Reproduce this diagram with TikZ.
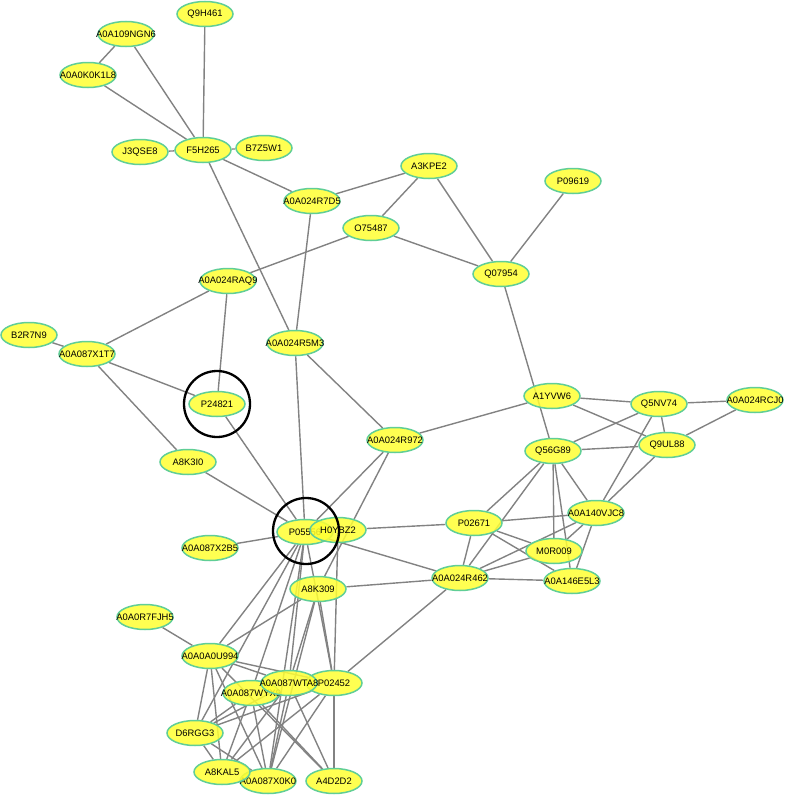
\documentclass[tikz,border=0pt]{standalone}
\usepackage{fontspec}
\setmainfont{Liberation Sans}
\usetikzlibrary{shapes.geometric,backgrounds}
\definecolor{protfill}{RGB}{255,255,51}
\definecolor{protline}{RGB}{96,206,150}
\definecolor{linkgray}{RGB}{130,130,130}

\begin{document}
\begin{tikzpicture}[x=1pt,y=-1pt,font=\fontsize{9.4}{11}\selectfont,
  prot/.style={ellipse,draw=protline,line width=1.5pt,fill=protfill,fill opacity=0.85,text opacity=1,
    minimum width=56pt,minimum height=25pt,inner sep=0pt,
    execute at begin node={\hbox to 0pt\bgroup\hss},execute at end node={\hss\egroup}},
  link/.style={draw=linkgray,line width=1.4pt},
  ring/.style={circle,draw=black,line width=2.3pt,minimum size=66pt,inner sep=0pt}]
\useasboundingbox (0,0) rectangle (785,795);

% upper part
\node[prot] (Q9H461) at (205,14) {Q9H461};
\node[prot] (A0A109NGN6) at (126,34) {A0A109NGN6};
\node[prot] (A0A0K0K1L8) at (88,75) {A0A0K0K1L8};
\node[prot] (J3QSE8) at (140,152) {J3QSE8};
\node[prot] (F5H265) at (203,150) {F5H265};
\node[prot] (B7Z5W1) at (264,148) {B7Z5W1};
\node[prot] (A3KPE2) at (429,166) {A3KPE2};
\node[prot] (P09619) at (573,181) {P09619};
\node[prot] (A0A024R7D5) at (312,201) {A0A024R7D5};
\node[prot] (O75487) at (371,228) {O75487};
\node[prot] (Q07954) at (501,274) {Q07954};
\node[prot] (A0A024RAQ9) at (228,281) {A0A024RAQ9};
\node[prot] (B2R7N9) at (29,335) {B2R7N9};
\node[prot] (A0A087X1T7) at (87,354) {A0A087X1T7};
\node[prot] (A0A024R5M3) at (295,343) {A0A024R5M3};
\node[prot] (P24821) at (217,404) {P24821};
\node[prot] (A8K3I0) at (188,462) {A8K3I0};
\node[prot] (A0A024R972) at (395,440) {A0A024R972};

% right cluster
\node[prot] (A1YVW6) at (552,396) {A1YVW6};
\node[prot] (Q5NV74) at (659,404) {Q5NV74};
\node[prot] (A0A024RCJ0) at (755,400) {A0A024RCJ0};
\node[prot] (Q9UL88) at (667,445) {Q9UL88};
\node[prot] (Q56G89) at (553,451) {Q56G89};
\node[prot] (P02671) at (474,523) {P02671};
\node[prot] (A0A140VJC8) at (596,513) {A0A140VJC8};
\node[prot] (M0R009) at (554,551) {M0R009};
\node[prot] (A0A024R462) at (460,578) {A0A024R462};
\node[prot] (A0A146E5L3) at (572,581) {A0A146E5L3};

% hub and lower cluster
\node[prot] (P05556) at (305,532) {P05556};
\node[prot] (H0YBZ2) at (338,530) {H0YBZ2};
\node[prot] (A0A087X2B5) at (210,548) {A0A087X2B5};
\node[prot] (A8K309) at (318,589) {A8K309};
\node[prot] (A0A0R7FJH5) at (145,617) {A0A0R7FJH5};
\node[prot] (A0A0A0U994) at (210,656) {A0A0A0U994};
\node[prot] (P02452) at (334,683) {P02452};
\node[prot] (A0A087WYX9) at (251,693) {A0A087WYX9};
\node[prot] (A0A087WTA8) at (289,683) {A0A087WTA8};
\node[prot] (D6RGG3) at (195,733) {D6RGG3};
\node[prot] (A0A087X0K0) at (268,781) {A0A087X0K0};
\node[prot] (A8KAL5) at (222,772) {A8KAL5};
\node[prot] (A4D2D2) at (334,781) {A4D2D2};

\begin{scope}[on background layer]
\foreach \a/\b in {Q9H461/F5H265,A0A109NGN6/A0A0K0K1L8,A0A109NGN6/F5H265,A0A0K0K1L8/F5H265,
  J3QSE8/F5H265,F5H265/B7Z5W1,F5H265/A0A024R7D5,F5H265/A0A024R5M3,
  A0A024R7D5/A3KPE2,A0A024R7D5/A0A024R5M3,A3KPE2/O75487,A3KPE2/Q07954,P09619/Q07954,
  O75487/Q07954,O75487/A0A024RAQ9,Q07954/Q56G89,A0A024RAQ9/A0A087X1T7,A0A024RAQ9/P24821,
  B2R7N9/A0A087X1T7,A0A087X1T7/P24821,A0A087X1T7/A8K3I0,A0A024R5M3/A0A024R972,
  A0A024R972/A1YVW6,A1YVW6/Q5NV74,A1YVW6/Q9UL88,Q5NV74/A0A024RCJ0,Q5NV74/Q9UL88,
  Q5NV74/Q56G89,Q5NV74/A0A140VJC8,Q9UL88/A0A024RCJ0,Q9UL88/Q56G89,Q9UL88/A0A140VJC8,
  Q56G89/P02671,Q56G89/A0A024R462,Q56G89/M0R009,Q56G89/A0A146E5L3,Q56G89/A0A140VJC8,
  P02671/A0A140VJC8,P02671/A0A024R462,P02671/M0R009,P02671/A0A146E5L3,
  A0A140VJC8/M0R009,A0A140VJC8/A0A024R462,A0A140VJC8/A0A146E5L3,
  A0A024R462/M0R009,A0A024R462/A0A146E5L3}
  \draw[link] (\a) -- (\b);
% around the hub
\foreach \a/\b in {P05556/A8K3I0,P05556/P24821,P05556/A0A024R5M3,P05556/A0A024R972,
  P05556/A0A087X2B5,P05556/A0A024R462,P05556/A0A0A0U994,P05556/A0A087WYX9,
  P05556/A0A087WTA8,P05556/P02452,P05556/A0A087X0K0,P05556/D6RGG3,
  H0YBZ2/P02671,H0YBZ2/P02452,A0A024R972/A8K309,
  A8K309/A0A024R462,A8K309/A0A0A0U994,A8K309/A0A087WTA8,A8K309/P02452,A8K309/A0A087X0K0,
  P02452/A0A024R462}
  \draw[link] (\a) -- (\b);
% lower cluster
\foreach \a/\b in {A0A0R7FJH5/A0A0A0U994,A0A0A0U994/D6RGG3,A0A0A0U994/A8KAL5,
  A0A0A0U994/A0A087X0K0,A0A0A0U994/A0A087WTA8,A0A0A0U994/P02452,A0A0A0U994/A4D2D2,
  A0A087WYX9/A8KAL5,A0A087WYX9/A0A087X0K0,A0A087WYX9/A4D2D2,A0A087WYX9/D6RGG3,
  A0A087WTA8/D6RGG3,A0A087WTA8/A8KAL5,A0A087WTA8/A0A087X0K0,A0A087WTA8/A4D2D2,
  P02452/D6RGG3,P02452/A8KAL5,P02452/A0A087X0K0,P02452/A4D2D2,
  D6RGG3/A8KAL5,D6RGG3/A0A087X0K0}
  \draw[link] (\a) -- (\b);
\end{scope}

\node[ring] (ringA) at (P24821) {};
\node[ring] (ringB) at (306,531) {};
\end{tikzpicture}
\end{document}
